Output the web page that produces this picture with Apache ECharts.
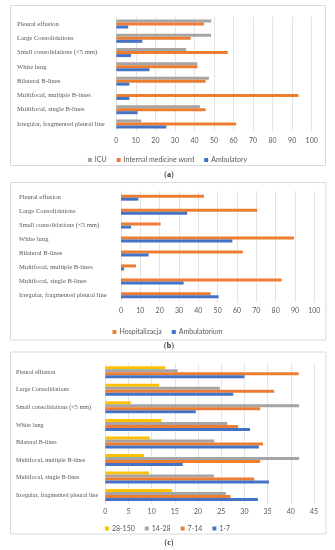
<!DOCTYPE html>
<html>
<head>
<meta charset="utf-8">
<script src="https://cdn.jsdelivr.net/npm/echarts@6/dist/echarts.min.js"></script>
<style>
html,body{margin:0;padding:0;background:#fff;}
#c{width:335px;height:550px;}
</style>
</head>
<body>
<div id="c"></div>
<script>
// Categories, bottom to top (as drawn by the value axis)
var categories = [
  "Irregular, fragmented pleural line",
  "Multifocal, single B-lines",
  "Multifocal, multiple B-lines",
  "Bilateral B-lines",
  "White lung",
  "Small consolidations (<5 mm)",
  "Large Consolidations",
  "Pleural effusion"
];

// Panel (a)
var aNames = ["ICU", "Internal medicine word", "Ambulatory"];
var aICU = [12.8, 42.8, 0, 47.4, 41.5, 35.8, 48.5, 48.6];
var aInternal = [61.4, 45.7, 93.2, 45.7, 41.5, 57.0, 38.0, 44.9];
var aAmbulatory = [25.6, 10.9, 6.7, 6.7, 17.0, 7.5, 13.3, 6.1];
var aTicks = [0, 10, 20, 30, 40, 50, 60, 70, 80, 90, 100];

// Panel (b)
var bNames = ["Hospitalizacja", "Ambulatorium"];
var bHosp = [46.4, 83.1, 7.8, 63.0, 89.5, 20.5, 70.5, 42.9];
var bAmb = [50.5, 32.4, 1.6, 14.3, 57.6, 5.2, 34.2, 9.0];
var bTicks = [0, 10, 20, 30, 40, 50, 60, 70, 80, 90, 100];

// Panel (c)
var cNames = ["28-150", "14-28", "7-14", "1-7"];
var c28_150 = [14.4, 9.4, 8.3, 9.6, 12.1, 5.5, 11.6, 12.9];
var c14_28 = [26.0, 23.4, 41.8, 23.5, 26.3, 41.8, 24.7, 15.6];
var c7_14 = [27.0, 32.1, 33.4, 34.0, 28.6, 33.4, 36.4, 41.7];
var c1_7 = [32.9, 35.3, 16.7, 33.1, 31.2, 19.5, 27.6, 30.0];
var cTicks = [0, 5, 10, 15, 20, 25, 30, 35, 40, 45];

var panelLabels = ["a", "b", "c"];

var GRAY = "#A5A5A5", ORANGE = "#ED7D31", BLUE = "#4472C4", YELLOW = "#FFC000";
var TXT = "#595959";
var SERIF = "'Liberation Serif', 'DejaVu Serif', serif";
var SANS = "Lato, 'Liberation Sans', sans-serif";

var grids = [
  {left: 116.3, right: 23.3, top: 16.9, height: 114.2},
  {left: 121, right: 20.7, top: 190.7, height: 111.6},
  {left: 105.3, right: 21, top: 363.5, height: 140.3}
];
var catLabelX = [17, 19, 16];
var tickSets = [aTicks, bTicks, cTicks];
var tickMargins = [6, 5, 4];
var catFont = [6.6, 6.6, 6.2];

var xAxes = [], yAxes = [];
for (var i = 0; i < 3; i++) {
  var t = tickSets[i];
  xAxes.push({
    type: 'value', gridIndex: i,
    min: t[0], max: t[t.length - 1], interval: t[1] - t[0],
    axisLine: {show: false}, axisTick: {show: false},
    splitLine: {show: true, lineStyle: {color: '#e4e4e4', width: 1}},
    axisLabel: {color: TXT, fontFamily: SANS, fontSize: 7, margin: tickMargins[i]}
  });
  yAxes.push({
    type: 'category', gridIndex: i, data: categories,
    axisLine: {show: false}, axisTick: {show: false},
    splitLine: {show: false},
    axisLabel: {color: TXT, fontFamily: SERIF, fontSize: catFont[i], align: 'left',
      margin: grids[i].left - catLabelX[i]}
  });
}

function bar(name, data, color, gi) {
  return {
    name: name, type: 'bar', xAxisIndex: gi, yAxisIndex: gi, data: data,
    barWidth: 3, barGap: '0%',
    itemStyle: {color: color},
    emphasis: {disabled: true},
    silent: true
  };
}

var series = [
  bar(aNames[0], aICU, GRAY, 0),
  bar(aNames[1], aInternal, ORANGE, 0),
  bar(aNames[2], aAmbulatory, BLUE, 0),
  bar(bNames[0], bHosp, ORANGE, 1),
  bar(bNames[1], bAmb, BLUE, 1),
  bar(cNames[0], c28_150, YELLOW, 2),
  bar(cNames[1], c14_28, GRAY, 2),
  bar(cNames[2], c7_14, ORANGE, 2),
  bar(cNames[3], c1_7, BLUE, 2)
];

function legend(names, top) {
  return {
    data: names, top: top, left: 'center',
    icon: 'rect', itemWidth: 4, itemHeight: 4, itemGap: 10,
    selectedMode: false,
    textStyle: {color: TXT, fontFamily: SANS, fontSize: 7, padding: [0, 0, 0, -2]}
  };
}

var frames = [
  {x: 10.5, y: 5.5, w: 315, h: 160},
  {x: 10.5, y: 182.5, w: 315.5, h: 157.5},
  {x: 10.5, y: 352, w: 315.5, h: 182}
];
var labelY = [175.5, 346.5, 543.5];

var graphics = [];
for (var k = 0; k < 3; k++) {
  graphics.push({
    type: 'rect', silent: true,
    shape: {x: frames[k].x, y: frames[k].y, width: frames[k].w, height: frames[k].h},
    style: {fill: 'none', stroke: '#d9d9d9', lineWidth: 1}
  });
}

var titles = [];
for (var m = 0; m < 3; m++) {
  titles.push({
    text: '(' + '{b|' + panelLabels[m] + '})',
    left: 169, top: labelY[m] - 5, textAlign: 'center',
    padding: 0,
    textStyle: {
      fontFamily: SERIF, fontSize: 8, fontWeight: 'normal', color: '#222',
      rich: {b: {fontFamily: SERIF, fontSize: 8, fontWeight: 'bold', color: '#222'}}
    }
  });
}

var chart = echarts.init(document.getElementById('c'), null, {renderer: 'canvas'});
chart.setOption({
  animation: false,
  backgroundColor: '#fff',
  title: titles,
  grid: grids,
  xAxis: xAxes,
  yAxis: yAxes,
  legend: [legend(aNames, 151.5), legend(bNames, 323.5), legend(cNames, 520)],
  graphic: graphics,
  series: series
});
</script>
</body>
</html>
